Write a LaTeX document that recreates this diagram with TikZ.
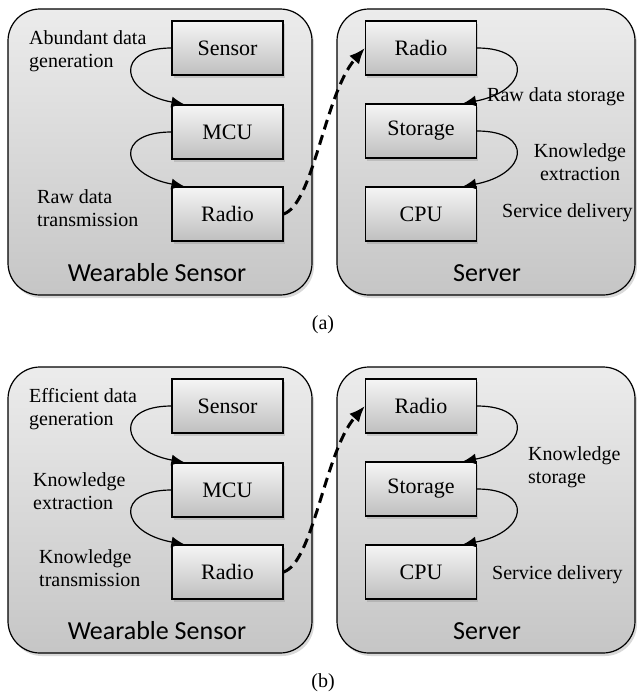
\documentclass[tikz,border=0pt]{standalone}
\usepackage{fontspec}
\setmainfont{Liberation Serif}
\newfontfamily\panelfont{Carlito}
\usetikzlibrary{arrows.meta,shadows}

\begin{document}
\begin{tikzpicture}[x=1pt, y=1pt,
    panel/.style={draw, line width=1.2pt, rounded corners=32pt,
      top color=gray!15, bottom color=gray!45,
      drop shadow={opacity=0.3, shadow xshift=2pt, shadow yshift=-3pt}},
    unit/.style={draw, line width=1.2pt, minimum width=111pt, minimum height=54pt,
      top color=gray!8, bottom color=gray!50,
      font=\fontsize{22}{26}\selectfont,
      drop shadow={opacity=0.3, shadow xshift=1.5pt, shadow yshift=-2.5pt}},
    lbl/.style={font=\fontsize{20}{23}\selectfont, inner sep=0pt},
    title/.style={font=\panelfont\fontsize{26}{30}\selectfont},
    flow/.style={-{Latex[length=13pt, width=11pt]}, line width=1.2pt},
    link/.style={-{Latex[length=16pt, width=13pt]}, line width=3pt,
      dash pattern=on 10pt off 6pt}]

    \useasboundingbox (0, 0) rectangle (637, -694);

    % Paneles (a)
    \path[panel] (8, -9) rectangle (312, -295);
    \path[panel] (337, -9) rectangle (635, -295);

    % Bloques (a)
    \node[unit] (sensorA) at (227.5, -48) {Sensor};
    \node[unit] (mcuA) at (227.5, -132) {MCU};
    \node[unit] (radioA) at (227.5, -214) {Radio};
    \node[unit] (radioSA) at (421, -48) {Radio};
    \node[unit] (storageA) at (421, -131) {Storage};
    \node[unit] (cpuA) at (421, -214) {CPU};

    % Flechas (a)
    \draw[flow] (sensorA.west) .. controls +(-57, 0) and +(-65, 12) .. ([xshift=13pt]mcuA.north west);
    \draw[flow] (mcuA.west) .. controls +(-57, 0) and +(-65, 12) .. ([xshift=13pt]radioA.north west);
    \draw[flow] (radioSA.east) .. controls +(57, 0) and +(65, 12) .. ([xshift=-14pt]storageA.north east);
    \draw[flow] (storageA.east) .. controls +(57, 0) and +(65, 12) .. ([xshift=-14pt]cpuA.north east);
    \draw[link] (radioA.east) .. controls +(30, 10) and +(-40, -45) .. (radioSA.west);

    % Etiquetas (a)
    \node[lbl, anchor=west, align=left] (genA) at (29, -51) {Abundant data\\generation};
    \node[lbl, anchor=west, align=left] (txA) at (37, -208) {Raw data\\transmission};
    \node[lbl, anchor=west] (storeA) at (487, -97) {Raw data storage};
    \node[lbl, align=center] (extrA) at (580, -162) {Knowledge\\extraction};
    \node[lbl, anchor=west] (servA) at (502, -213) {Service delivery};
    \node[title] (wearA) at (157, -273) {Wearable Sensor};
    \node[title] (serverA) at (487, -273) {Server};
    \node[lbl] (capA) at (323, -325) {(a)};

    % Paneles (b)
    \path[panel] (8, -367) rectangle (312, -653);
    \path[panel] (337, -367) rectangle (635, -653);

    % Bloques (b)
    \node[unit] (sensorB) at (227.5, -406) {Sensor};
    \node[unit] (mcuB) at (227.5, -490) {MCU};
    \node[unit] (radioB) at (227.5, -572) {Radio};
    \node[unit] (radioSB) at (421, -406) {Radio};
    \node[unit] (storageB) at (421, -489) {Storage};
    \node[unit] (cpuB) at (421, -572) {CPU};

    % Flechas (b)
    \draw[flow] (sensorB.west) .. controls +(-57, 0) and +(-65, 12) .. ([xshift=13pt]mcuB.north west);
    \draw[flow] (mcuB.west) .. controls +(-57, 0) and +(-65, 12) .. ([xshift=13pt]radioB.north west);
    \draw[flow] (radioSB.east) .. controls +(57, 0) and +(65, 12) .. ([xshift=-14pt]storageB.north east);
    \draw[flow] (storageB.east) .. controls +(57, 0) and +(65, 12) .. ([xshift=-14pt]cpuB.north east);
    \draw[link] (radioB.east) .. controls +(30, 10) and +(-40, -45) .. (radioSB.west);

    % Etiquetas (b)
    \node[lbl, anchor=west, align=left] (genB) at (29, -409) {Efficient data\\generation};
    \node[lbl, anchor=west, align=left] (extrB) at (33, -491) {Knowledge\\extraction};
    \node[lbl, anchor=west, align=left] (txB) at (39, -568) {Knowledge\\transmission};
    \node[lbl, anchor=west, align=left] (storeB) at (528, -467) {Knowledge\\storage};
    \node[lbl, anchor=west] (servB) at (492, -575) {Service delivery};
    \node[title] (wearB) at (157, -631) {Wearable Sensor};
    \node[title] (serverB) at (487, -631) {Server};
    \node[lbl] (capB) at (323, -683) {(b)};

\end{tikzpicture}
\end{document}
